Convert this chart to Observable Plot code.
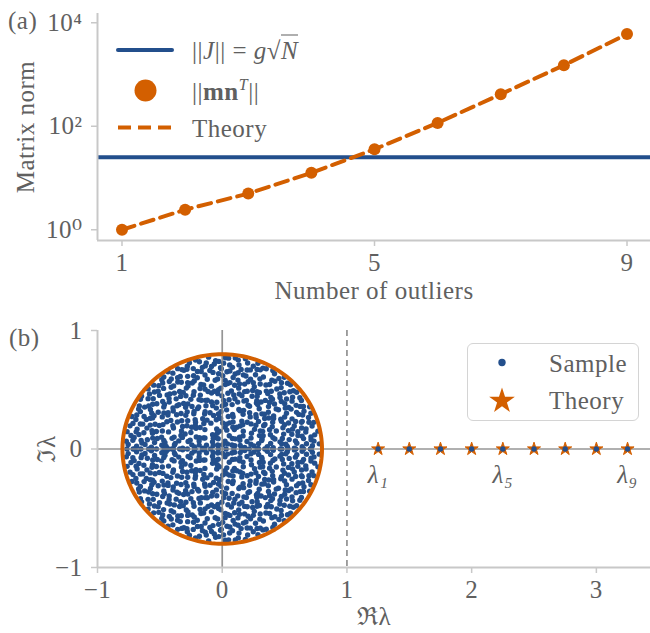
<!DOCTYPE html>
<html>
<head>
<meta charset="utf-8">
<script src="https://cdn.jsdelivr.net/npm/d3@7"></script>
<script src="https://cdn.jsdelivr.net/npm/@observablehq/plot@0.6"></script>
<style>
  body { margin: 0; background: #fff; }
  #wrap { position: relative; width: 650px; height: 633px; overflow: hidden;
          font-family: "Liberation Serif", "DejaVu Serif", serif; color: #606060; letter-spacing: 0.5px; }
  .abs { position: absolute; white-space: nowrap; line-height: 1; }
  .mid { transform: translateY(-50%); }
  #wrap svg { display: block; }
</style>
</head>
<body>
<div id="wrap"></div>
<script>
// ---------- data: panel (a) ----------
const outlierCounts = [1, 2, 3, 4, 5, 6, 7, 8, 9];
const sampleNorms   = [1.0, 2.44, 5.0, 12.6, 36, 116, 417, 1510, 6040]; // ||m n^T|| (dots)
const theoryNorms   = [1.0, 2.44, 5.0, 12.6, 36, 116, 417, 1510, 6040]; // dashed theory curve
const jNorm = 25.3;                                                      // ||J|| = g sqrt(N)
const xTicksA = [1, 5, 9];
const yTicksA = [1, 100, 10000];
const yTickLabelsA = ["10⁰", "10²", "10⁴"];

// ---------- data: panel (b) ----------
const outlierRe       = [1.25, 1.5, 1.75, 2.0, 2.25, 2.5, 2.75, 3.0, 3.25]; // theory outliers (stars)
const sampleOutlierRe = [1.25, 1.5, 1.75, 2.0, 2.25, 2.5, 2.75, 3.0, 3.25]; // sampled outliers (dots)
const outlierLabels   = ["λ₁", "", "", "", "λ₅", "", "", "", "λ₉"];
const bulkRadius = 0.8;    // theory radius of the eigenvalue bulk
const bulkPairs = 480;     // complex-conjugate pairs in the bulk
const bulkReal = 31;       // bulk eigenvalues lying on the real axis
const xTicksB = [-1, 0, 1, 2, 3];
const yTicksB = [-1, 0, 1];

// ---------- style ----------
const BLUE = "#234f8c", ORANGE = "#d35f00", GRAY = "#8a8a8a", SPINE = "#c8c8c8", TEXT = "#606060";
const FONT = '"Liberation Serif", "DejaVu Serif", serif';
const FS = "25px";

// tables
const normTable = outlierCounts.map((n, i) => ({n, sample: sampleNorms[i], theory: theoryNorms[i]}));
// The individual bulk eigenvalues cannot be read one by one; the picture shows them filling the
// disk of radius bulkRadius evenly (in conjugate pairs), so they are laid out as an even,
// deterministic (Halton low-discrepancy) fill of that disk.
function halton(i, b) { let f = 1, r = 0; while (i > 0) { f /= b; r += f * (i % b); i = Math.floor(i / b); } return r; }
const bulk = [];
for (let i = 1; i <= bulkPairs; i++) {
  const r = bulkRadius * 0.985 * Math.sqrt(halton(i, 2)), t = Math.PI * halton(i, 3);
  bulk.push({re: r * Math.cos(t), im: r * Math.sin(t)}, {re: r * Math.cos(t), im: -r * Math.sin(t)});
}
for (let i = 1; i <= bulkReal; i++) bulk.push({re: bulkRadius * 0.97 * (2 * halton(i, 5) - 1), im: 0});
const circle = d3.range(0, 361, 2).map(a => ({re: bulkRadius * Math.cos(a * Math.PI / 180), im: bulkRadius * Math.sin(a * Math.PI / 180)}));
const outTable = outlierRe.map((re, i) => ({re, sre: sampleOutlierRe[i], label: outlierLabels[i]}));

const xDomA = [0.612, 9.372], yDomA = [0.62, 15100];
const xDomB = [-1, 3.434], yDomB = [-1, 1];
const fmtInt = d3.format("d");

const plotA = Plot.plot({
  width: 650, height: 310,
  marginLeft: 97, marginRight: 0, marginTop: 13, marginBottom: 70,
  style: {fontFamily: FONT, fontSize: FS, color: TEXT, background: "transparent", overflow: "visible"},
  x: {domain: xDomA},
  y: {type: "log", domain: yDomA},
  marks: [
    Plot.ruleY([jNorm], {stroke: BLUE, strokeWidth: 4}),
    Plot.line(normTable, {x: "n", y: "theory", stroke: ORANGE, strokeWidth: 4, strokeDasharray: "13,7"}),
    Plot.dot(normTable, {x: "n", y: "sample", r: 6, fill: ORANGE}),
    Plot.ruleX([xDomA[0]], {stroke: SPINE, strokeWidth: 2}),
    Plot.ruleY([yDomA[0]], {stroke: SPINE, strokeWidth: 2}),
    Plot.axisX({ticks: xTicksA, tickFormat: fmtInt, tickSize: 6, tickPadding: 7, stroke: SPINE, strokeWidth: 1.5,
      label: "Number of outliers", labelAnchor: "center", labelArrow: "none", labelOffset: 58}),
    Plot.axisY({ticks: yTicksA, tickFormat: d => yTickLabelsA[yTicksA.indexOf(d)], tickSize: 6, tickPadding: 9, stroke: SPINE, strokeWidth: 1.5,
      label: "Matrix norm", labelAnchor: "center", labelArrow: "none", labelOffset: 81})
  ]
});

const plotB = Plot.plot({
  width: 650, height: 323,
  marginLeft: 97, marginRight: 0, marginTop: 20, marginBottom: 66,
  style: {fontFamily: FONT, fontSize: FS, color: TEXT, background: "transparent", overflow: "visible"},
  x: {domain: xDomB},
  y: {domain: yDomB},
  marks: [
    Plot.dot(bulk, {x: "re", y: "im", r: 2.7, fill: BLUE}),
    Plot.ruleX([0], {stroke: GRAY, strokeWidth: 1.7, strokeOpacity: 0.9}),
    Plot.ruleY([0], {stroke: GRAY, strokeWidth: 1.7, strokeOpacity: 0.9}),
    Plot.ruleX([1], {stroke: GRAY, strokeWidth: 1.6, strokeDasharray: "6,4"}),
    Plot.line(circle, {x: "re", y: "im", stroke: ORANGE, strokeWidth: 4}),
    Plot.dot(outTable, {x: "re", y: () => 0, symbol: "star", r: 4.1, fill: ORANGE, stroke: ORANGE, strokeWidth: 1}),
    Plot.dot(outTable, {x: "sre", y: () => 0, r: 2.7, fill: BLUE}),
    Plot.text(outTable, {x: "re", y: () => 0, text: "label", dy: 26, fontStyle: "italic", fill: TEXT}),
    Plot.ruleX([xDomB[0]], {stroke: SPINE, strokeWidth: 2}),
    Plot.ruleY([yDomB[0]], {stroke: SPINE, strokeWidth: 2}),
    Plot.axisX({ticks: xTicksB, tickFormat: fmtInt, tickSize: 6, tickPadding: 7, stroke: SPINE, strokeWidth: 1.5,
      label: "ℜλ", labelAnchor: "center", labelArrow: "none", labelOffset: 57}),
    Plot.axisY({ticks: yTicksB, tickFormat: fmtInt, tickSize: 6, tickPadding: 9, stroke: SPINE, strokeWidth: 1.5,
      label: "ℑλ", labelAnchor: "center", labelArrow: "none", labelOffset: 60})
  ]
});

const wrap = document.getElementById("wrap");
function place(el, left, top) {
  const d = document.createElement("div");
  d.className = "abs"; d.style.left = left + "px"; d.style.top = top + "px";
  d.appendChild(el); wrap.appendChild(d); return d;
}
place(plotA, 0, 0);
place(plotB, 0, 310);

function label(html, left, cy) {
  const d = document.createElement("div");
  d.className = "abs mid"; d.style.left = left + "px"; d.style.top = cy + "px";
  d.style.fontSize = FS;
  d.innerHTML = html; wrap.appendChild(d); return d;
}
// panel letters
label("(a)", 8, 20);
label("(b)", 9, 337);

// legend (b) box
const box = document.createElement("div");
box.className = "abs";
Object.assign(box.style, {left: "467px", top: "343px", width: "170px", height: "76px",
  border: "1.5px solid #d4d4d4", borderRadius: "6px", background: "rgba(255,255,255,0.85)"});
wrap.appendChild(box);

// legend swatches
const ov = d3.create("svg").attr("width", 650).attr("height", 633)
  .style("position", "absolute").style("left", "0px").style("top", "0px").style("pointer-events", "none");
ov.append("line").attr("x1", 118).attr("x2", 172).attr("y1", 50).attr("y2", 50)
  .attr("stroke", BLUE).attr("stroke-width", 4).attr("stroke-linecap", "round");
ov.append("circle").attr("cx", 145.5).attr("cy", 90.5).attr("r", 11).attr("fill", ORANGE);
ov.append("line").attr("x1", 118).attr("x2", 172).attr("y1", 127.5).attr("y2", 127.5)
  .attr("stroke", ORANGE).attr("stroke-width", 4).attr("stroke-dasharray", "13,7");
ov.append("circle").attr("cx", 502).attr("cy", 362.5).attr("r", 3.7).attr("fill", BLUE);
ov.append("path").attr("d", d3.symbol(d3.symbolStar, 205)()).attr("transform", "translate(502,401)")
  .attr("fill", ORANGE);
wrap.appendChild(ov.node());

// legend texts
label('||<i>J</i>|| = <i>g</i>√<span style="border-top:1.5px solid #606060;padding-top:1px"><i>N</i></span>', 192, 50);
label('||<b>mn</b><sup style="font-size:16px;font-style:italic;vertical-align:10px">T</sup>||', 192, 90);
label('Theory', 192, 128);
label('Sample', 549, 362.5);
label('Theory', 549, 400);
</script>
</body>
</html>
